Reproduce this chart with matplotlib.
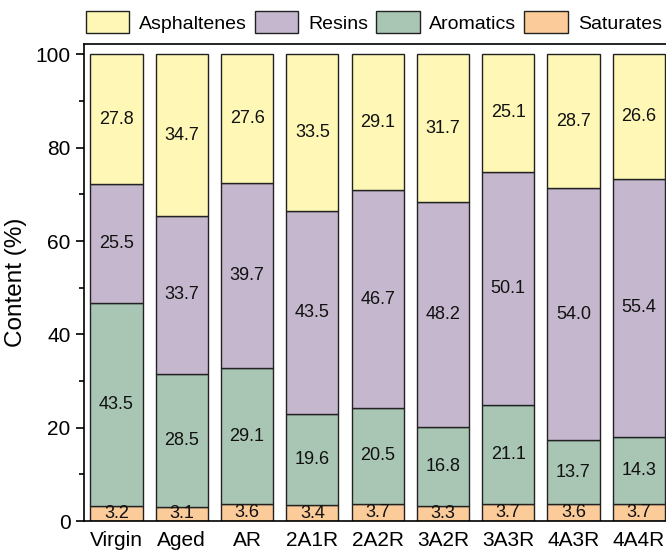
import matplotlib
matplotlib.use("Agg")
import matplotlib.pyplot as plt
import numpy as np
from matplotlib.ticker import MultipleLocator

plt.rcParams['font.family'] = ['Liberation Sans', 'DejaVu Sans']

samples = ["Virgin", "Aged", "AR", "2A1R", "2A2R", "3A2R", "3A3R", "4A3R", "4A4R"]
saturates = [3.2, 3.1, 3.6, 3.4, 3.7, 3.3, 3.7, 3.6, 3.7]
aromatics = [43.5, 28.5, 29.1, 19.6, 20.5, 16.8, 21.1, 13.7, 14.3]
resins = [25.5, 33.7, 39.7, 43.5, 46.7, 48.2, 50.1, 54.0, 55.4]
asphaltenes = [27.8, 34.7, 27.6, 33.5, 29.1, 31.7, 25.1, 28.7, 26.6]

series = [
    ("Saturates", saturates, "#FBCB9A"),
    ("Aromatics", aromatics, "#A9C6B5"),
    ("Resins", resins, "#C5B8CE"),
    ("Asphaltenes", asphaltenes, "#FEF7B5"),
]

fig = plt.figure(figsize=(6.66, 5.52), dpi=100)
ax = fig.add_axes([0.126, 0.056, 0.882, 0.864])

x = np.arange(len(samples))
bottom = np.zeros(len(samples))
handles = {}
for name, vals, color in series:
    vals = np.array(vals)
    bars = ax.bar(x, vals, width=0.8, bottom=bottom, color=color,
                  edgecolor="#222222", linewidth=1.0, label=name)
    handles[name] = bars
    for xi, b, v in zip(x, bottom, vals):
        ax.text(xi, b + v / 2, f"{v:.1f}", ha="center", va="center",
                fontsize=13, color="#111111")
    bottom += vals

ax.set_xlim(-0.5, 8.5)
ax.set_ylim(0, 102.2)
ax.set_xticks(x)
ax.set_xticklabels(samples, fontsize=15)
ax.tick_params(axis="x", length=0, pad=7)
ax.yaxis.set_major_locator(MultipleLocator(20))
ax.yaxis.set_minor_locator(MultipleLocator(10))
ax.tick_params(axis="y", which="major", length=6, width=1.2, labelsize=15, direction="out")
ax.tick_params(axis="y", which="minor", length=3.5, width=1.2, direction="out")
ax.set_ylabel("Content (%)", fontsize=17.5, labelpad=6)
for sp in ax.spines.values():
    sp.set_linewidth(1.2)

order = ["Asphaltenes", "Resins", "Aromatics", "Saturates"]
fig.legend([handles[n] for n in order], order, loc="center",
           bbox_to_anchor=(0.561, 0.96), ncol=4, frameon=False,
           fontsize=14, handlelength=2.25, handleheight=1.35,
           handletextpad=0.5, columnspacing=0.4, borderpad=0.2)

fig.savefig("out.png", dpi=100)
